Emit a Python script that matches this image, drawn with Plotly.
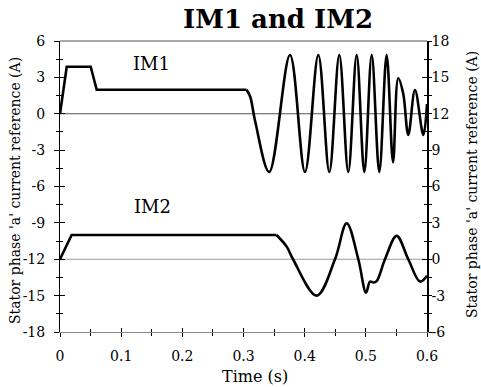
import plotly.graph_objects as go

# ---- data ----
# IM1 (left axis)
im1_ramp_t = [0.0, 0.011, 0.0502, 0.060, 0.305]
im1_ramp_v = [0.0, 3.88, 3.88, 1.98, 1.98]
im1_osc_t = [0.305, 0.311, 0.319, 0.342, 0.376, 0.4005, 0.4223, 0.4403,
             0.4566, 0.4713, 0.485, 0.4975, 0.5096, 0.522, 0.534, 0.5445, 0.553, 0.561,
             0.5694, 0.5804, 0.594, 0.600]
im1_osc_v = [1.98, 1.4, -0.6, -4.8, 4.85, -4.8, 4.85, -4.8,
             4.85, -4.8, 4.85, -4.8, 4.85, -4.8, 4.85, -4.0, 2.93, 1.69,
             -1.75, 1.96, -1.75, 0.8]

# IM2 (right axis)
im2_ramp_t = [0.0, 0.019, 0.354]
im2_ramp_v = [0.0, 2.0, 2.0]
im2_osc_t = [0.354, 0.3706, 0.381, 0.4196, 0.4496, 0.4687, 0.4877, 0.5003, 0.5068,
             0.5122, 0.5177, 0.5313, 0.5504, 0.5694, 0.5885, 0.600]
im2_osc_v = [2.0, 1.04, 0.0, -3.0, 0.0, 2.97, 0.0, -2.75, -1.84,
             -1.92, -1.8, 0.0, 1.93, 0.0, -1.84, -1.37]

# ticks
x_tick_vals = [0, 0.1, 0.2, 0.3, 0.4, 0.5, 0.6]
x_tick_text = ["0", "0.1", "0.2", "0.3", "0.4", "0.5", "0.6"]
left_tick_vals = [-18, -15, -12, -9, -6, -3, 0, 3, 6]
left_tick_text = ["-18", "-15", "-12", "-9", "-6", "-3", "0", "3", "6"]
right_tick_vals = [-6, -3, 0, 3, 6, 9, 12, 15, 18]
right_tick_text = ["-6", "-3", "0", "3", "6", "9", "12", "15", "18"]

FONT = "DejaVu Serif"
LW = 2.6

fig = go.Figure()
fig.add_trace(go.Scatter(x=im1_ramp_t, y=im1_ramp_v, mode="lines",
                         line=dict(color="black", width=LW), xaxis="x", yaxis="y"))
fig.add_trace(go.Scatter(x=im1_osc_t, y=im1_osc_v, mode="lines",
                         line=dict(color="black", width=LW, shape="spline", smoothing=1.0),
                         xaxis="x", yaxis="y"))
fig.add_trace(go.Scatter(x=im2_ramp_t, y=im2_ramp_v, mode="lines",
                         line=dict(color="black", width=LW), xaxis="x", yaxis="y2"))
fig.add_trace(go.Scatter(x=im2_osc_t, y=im2_osc_v, mode="lines",
                         line=dict(color="black", width=LW, shape="spline", smoothing=1.0),
                         xaxis="x", yaxis="y2"))
# empty traces so overlay tick axes are drawn
fig.add_trace(go.Scatter(x=[None], y=[None], xaxis="x2", yaxis="y3", showlegend=False, hoverinfo="skip"))
fig.add_trace(go.Scatter(x=[None], y=[None], xaxis="x2", yaxis="y4", showlegend=False, hoverinfo="skip"))

tickfont = dict(family=FONT, size=14, color="black")

fig.update_layout(
    width=481, height=387, autosize=False,
    margin=dict(l=60, r=54, t=41, b=55),
    paper_bgcolor="white", plot_bgcolor="white",
    showlegend=False,
    xaxis=dict(range=[0, 0.6], tickmode="array", tickvals=x_tick_vals, ticktext=x_tick_text,
               ticks="outside", ticklen=4, tickwidth=1, tickcolor="black",
               minor=dict(ticks="outside", dtick=0.05, tick0=0, ticklen=3, tickcolor="black"),
               showline=True, linecolor="#8a8a8a", linewidth=1,
               showgrid=False, zeroline=False, tickfont=tickfont, ticklabelstandoff=7),
    xaxis2=dict(range=[0, 0.6], overlaying="x", anchor="y", side="bottom",
                tickmode="array", tickvals=x_tick_vals, ticks="inside", ticklen=4,
                tickcolor="black", showticklabels=False,
                minor=dict(ticks="inside", dtick=0.05, tick0=0, ticklen=3, tickcolor="black"),
                showline=False, showgrid=False, zeroline=False),
    yaxis=dict(range=[-18, 6], tickmode="array", tickvals=left_tick_vals, ticktext=left_tick_text,
               ticks="outside", ticklen=5, tickcolor="black",
               minor=dict(ticks="outside", dtick=1.5, tick0=0, ticklen=3, tickcolor="black"),
               showline=True, linecolor="black", linewidth=1,
               showgrid=False, zeroline=False, tickfont=tickfont, ticklabelstandoff=6),
    yaxis2=dict(range=[-6, 18], overlaying="y", side="right", anchor="x",
                tickmode="array", tickvals=right_tick_vals, ticktext=right_tick_text,
                ticks="outside", ticklen=3, tickcolor="black",
                minor=dict(ticks="outside", dtick=1.5, tick0=0, ticklen=3, tickcolor="black"),
                showline=True, linecolor="black", linewidth=1.5,
                showgrid=False, zeroline=False, tickfont=tickfont, ticklabelstandoff=-3),
    yaxis3=dict(range=[-18, 6], overlaying="y", side="left", anchor="x2",
                tickmode="array", tickvals=left_tick_vals, ticks="inside", ticklen=5,
                tickcolor="black", showticklabels=False,
                minor=dict(ticks="inside", dtick=1.5, tick0=0, ticklen=3, tickcolor="black"),
                showline=False, showgrid=False, zeroline=False),
    yaxis4=dict(range=[-6, 18], overlaying="y", side="right", anchor="x2",
                tickmode="array", tickvals=right_tick_vals, ticks="inside", ticklen=5,
                tickcolor="black", showticklabels=False,
                minor=dict(ticks="inside", dtick=1.5, tick0=0, ticklen=3, tickcolor="black"),
                showline=False, showgrid=False, zeroline=False),
    shapes=[
        dict(type="line", xref="x", yref="y", x0=0, x1=0.6, y0=0, y1=0,
             line=dict(color="#555555", width=1), layer="below"),
        dict(type="line", xref="x", yref="y2", x0=0, x1=0.6, y0=0, y1=0,
             line=dict(color="#9a9a9a", width=1.2), layer="below"),
        dict(type="line", xref="paper", yref="paper", x0=0, x1=1, y0=1, y1=1,
             line=dict(color="#555555", width=1), layer="below"),
    ],
    annotations=[
        dict(text="<b>IM1 and IM2</b>", xref="paper", yref="paper", x=0.594, y=1.0756,
             xanchor="center", yanchor="middle", showarrow=False,
             font=dict(family=FONT, size=26, color="black")),
        dict(text="IM1", xref="paper", yref="paper", x=0.248, y=0.9227,
             xanchor="center", yanchor="middle", showarrow=False,
             font=dict(family=FONT, size=18, color="black")),
        dict(text="IM2", xref="paper", yref="paper", x=0.252, y=0.4313,
             xanchor="center", yanchor="middle", showarrow=False,
             font=dict(family=FONT, size=18, color="black")),
        dict(text="Time (s)", xref="paper", yref="paper", x=0.531, y=-0.152,
             xanchor="center", yanchor="middle", showarrow=False,
             font=dict(family=FONT, size=16, color="black")),
        dict(text="Stator phase 'a' current reference (A)", xref="paper", yref="paper",
             x=-0.1226, y=0.4845, xanchor="center", yanchor="middle", textangle=-90,
             showarrow=False, font=dict(family=FONT, size=14, color="black")),
        dict(text="Stator phase 'a' current reference (A)", xref="paper", yref="paper",
             x=1.1226, y=0.5086, xanchor="center", yanchor="middle", textangle=-90,
             showarrow=False, font=dict(family=FONT, size=14, color="black")),
    ],
)

fig.write_html("out.html")
